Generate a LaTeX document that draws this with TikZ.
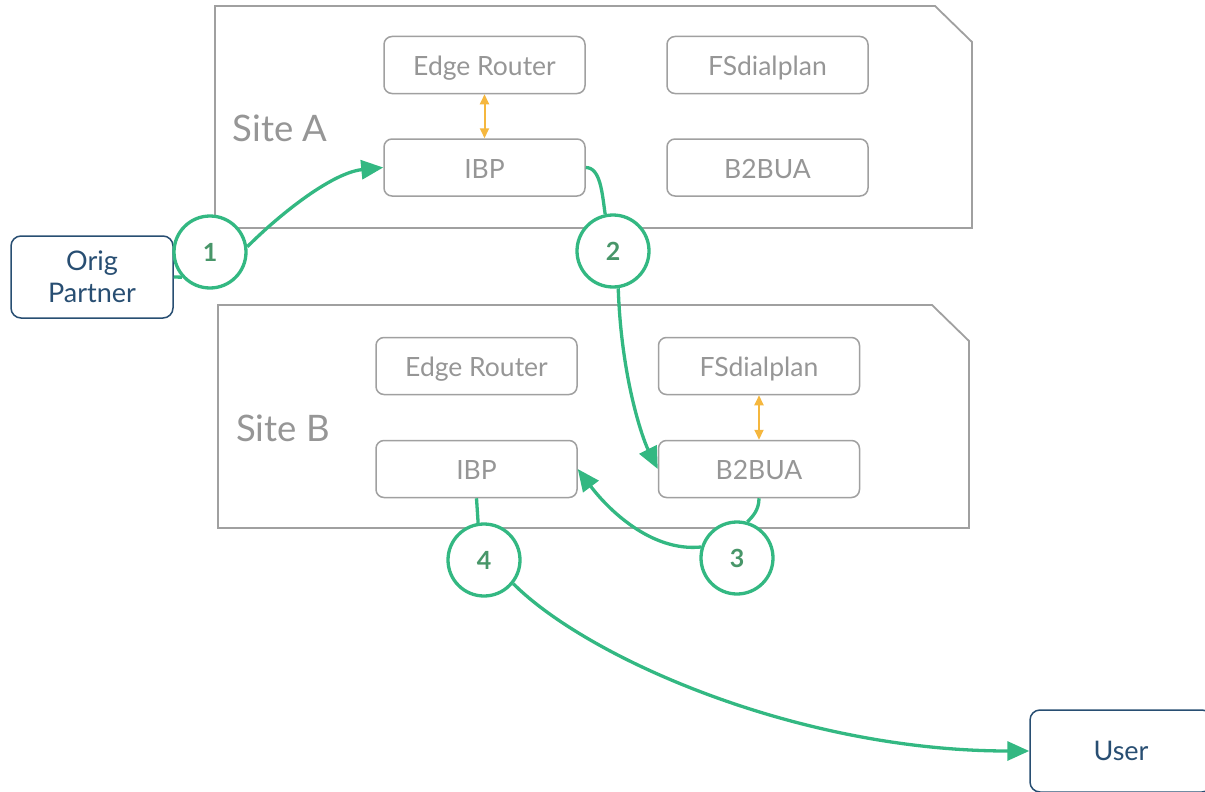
\documentclass[tikz,border=0pt]{standalone}
\usepackage{fontspec}
\setmainfont{Lato}
\usepackage{tikz}
\usetikzlibrary{arrows.meta}

\begin{document}
\begin{tikzpicture}[x=1pt,y=-1pt]

	\definecolor{boxgray}{RGB}{160,160,160}
	\definecolor{txtgray}{RGB}{150,150,150}
	\definecolor{flowgreen}{RGB}{51,184,130}
	\definecolor{numgreen}{RGB}{72,150,105}
	\definecolor{partnerblue}{RGB}{40,78,114}
	\definecolor{linkorange}{RGB}{245,183,62}

	\useasboundingbox (0,0) rectangle (1205,792);

	\tikzstyle{flow} = [draw=flowgreen,line width=3.3pt,-{Triangle[length=22pt,width=19pt]}]
	\tikzstyle{link} = [draw=flowgreen,line width=3.3pt,-]
	\tikzstyle{sync} = [draw=linkorange,line width=2pt,{Triangle[length=10pt,width=9pt]}-{Triangle[length=10pt,width=9pt]}]

	% site frames
	\draw[boxgray,line width=1.8pt] (215,6) -- (935,6) -- (972,42) -- (972,228) -- (215,228) -- cycle;
	\draw[boxgray,line width=1.8pt] (218,305) -- (932,305) -- (969,341) -- (969,528) -- (218,528) -- cycle;
	\node[txtgray,font=\fontsize{36.5}{40}\selectfont] (siteA) at (280,128) {Site A};
	\node[txtgray,font=\fontsize{36.5}{40}\selectfont] (siteB) at (283,428) {Site B};

	\tikzset{vertex/.style = {shape=rectangle,rounded corners=8pt,draw=boxgray,line width=1.5pt,text=txtgray,
		minimum width=201pt,minimum height=57pt,text height=24pt,text depth=3pt,font=\fontsize{26.5}{30}\selectfont}}
	\node[vertex] (erA) at (484.5,65) {Edge Router};
	\node[vertex] (fsA) at (767.5,65) {FSdialplan};
	\node[vertex] (ibpA) at (484.5,167.5) {IBP};
	\node[vertex] (bbA) at (767.5,167.5) {B2BUA};
	\node[vertex] (erB) at (476.5,366) {Edge Router};
	\node[vertex] (fsB) at (759,366) {FSdialplan};
	\node[vertex] (ibpB) at (476.5,469) {IBP};
	\node[vertex] (bbB) at (759,469) {B2BUA};

	\tikzset{vertex/.style = {shape=rectangle,rounded corners=10pt,draw=partnerblue,line width=1.5pt,text=partnerblue,
		minimum width=162pt,minimum height=82pt,align=center,font=\fontsize{27}{32}\selectfont}}
	\node[vertex] (orig) at (92,277) {Orig\\Partner};
	\node[vertex,minimum width=182pt] (user) at (1121,751) {User};

	\tikzset{vertex/.style = {shape=circle,draw=flowgreen,line width=3.3pt,fill=white,text=numgreen,
		minimum size=72pt,inner sep=0pt,font=\bfseries\fontsize{25}{28}\selectfont}}
	\node[vertex] (s1) at (210,252) {1};
	\node[vertex] (s2) at (613,251) {2};
	\node[vertex] (s3) at (737,558) {3};
	\node[vertex] (s4) at (484,560) {4};

	\draw[sync] (erA) to (ibpA);
	\draw[sync] (fsB) to (bbB);

	\draw[link] (orig.east) to (s1.222);
	\draw[flow] (s1.8) .. controls +(35,-35) and +(-50,5) .. (ibpA.west);
	\draw[link] (ibpA.east) .. controls +(15,0) and +(-3,-20) .. (s2.102);
	\draw[flow] (s2.-82) .. controls +(3,90) and +(-15,-30) .. (bbB.west);
	\draw[link] (bbB.south) .. controls +(0,12) and +(5,-5) .. (s3.74);
	\draw[flow] (s3.163) .. controls +(-50,5) and +(30,40) .. (ibpB.east);
	\draw[link] (ibpB.south) to (s4.99);
	\draw[flow] (s4.-39) .. controls +(75,75) and +(-230,0) .. (user.west);

\end{tikzpicture}
\end{document}
